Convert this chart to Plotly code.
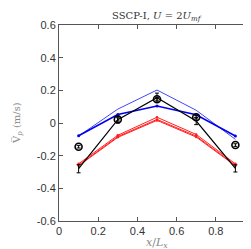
import plotly.graph_objects as go

x = [0.1, 0.3, 0.5, 0.7, 0.9]
blue_thin = [-0.08, 0.085, 0.202, 0.078, -0.10]
blue_thick = [-0.078, 0.052, 0.104, 0.05, -0.08]
red_a = [-0.25, -0.075, 0.035, -0.07, -0.25]
red_b = [-0.258, -0.083, 0.022, -0.08, -0.258]
red_c = [-0.262, -0.088, 0.016, -0.086, -0.262]
black_line = [-0.28, 0.02, 0.155, 0.012, -0.278]
black_err = [0.025, 0.02, 0.028, 0.022, 0.022]
circles = [-0.145, 0.022, 0.145, 0.035, -0.135]
circles_err = [0.008, 0.01, 0.01, 0.01, 0.008]

fig = go.Figure()
fig.add_trace(go.Scatter(x=x, y=blue_thin, mode="lines", line=dict(color="#4444ff", width=1)))
fig.add_trace(go.Scatter(x=x, y=blue_thick, mode="lines+markers", line=dict(color="#0000ee", width=1.6),
                         marker=dict(size=3, color="#0000ee")))
for r in (red_a, red_b, red_c):
    fig.add_trace(go.Scatter(x=x, y=r, mode="lines+markers", line=dict(color="#ff2020", width=1),
                             marker=dict(size=2.5, color="#ff2020")))
fig.add_trace(go.Scatter(x=x, y=black_line, mode="lines", line=dict(color="black", width=1.2),
                         error_y=dict(type="data", array=black_err, color="black", thickness=1, width=2)))
fig.add_trace(go.Scatter(x=x, y=circles, mode="markers",
                         marker=dict(symbol="circle-open", size=7, color="black", line=dict(width=1.6)),
                         error_y=dict(type="data", array=circles_err, color="black", thickness=1, width=2)))

tickfont = dict(family="Liberation Sans, Arial, sans-serif", size=11, color="#333333")
serif = "DejaVu Serif, Liberation Serif, serif"
fig.update_layout(
    width=251, height=249,
    margin=dict(l=51, r=4, t=17, b=36),
    plot_bgcolor="white", paper_bgcolor="white",
    showlegend=False,
    xaxis=dict(range=[0, 1], tickvals=[0, 0.2, 0.4, 0.6, 0.8, 1], ticktext=["0", "0.2", "0.4", "0.6", "0.8", "1"],
               showgrid=False, zeroline=False, showline=True, mirror="ticks", linecolor="#555555", linewidth=1,
               ticks="inside", ticklen=4, tickcolor="#555555", tickfont=tickfont, automargin=False),
    yaxis=dict(range=[-0.6, 0.6], tickvals=[-0.6, -0.4, -0.2, 0, 0.2, 0.4, 0.6],
               ticktext=["-0.6", "-0.4", "-0.2", "0", "0.2", "0.4", "0.6"],
               showgrid=False, zeroline=False, showline=True, mirror="ticks", linecolor="#555555", linewidth=1,
               ticks="inside", ticklen=4, tickcolor="#555555", tickfont=tickfont, automargin=False),
    annotations=[
        dict(text="SSCP-I, <i>U</i> = 2<i>U</i><sub><i>mf</i></sub>", xref="paper", yref="paper",
             x=0.5, y=1.0, yshift=9, xanchor="center", yanchor="middle", showarrow=False,
             font=dict(family=serif, size=10, color="#333333")),
        dict(text="<i>x</i>/<i>L</i><sub><i>x</i></sub>", xref="paper", yref="paper",
             x=0.5, y=0, yshift=-22, xanchor="center", yanchor="middle", showarrow=False,
             font=dict(family=serif, size=11, color="#888888")),
        dict(text="V\u0305<sub><i>p</i></sub> (m/s)", xref="paper", yref="paper",
             x=0, xshift=-42, y=0.5, xanchor="center", yanchor="middle", showarrow=False, textangle=-90,
             font=dict(family=serif, size=10, color="#888888")),
    ],
)
fig.write_html("out.html")
